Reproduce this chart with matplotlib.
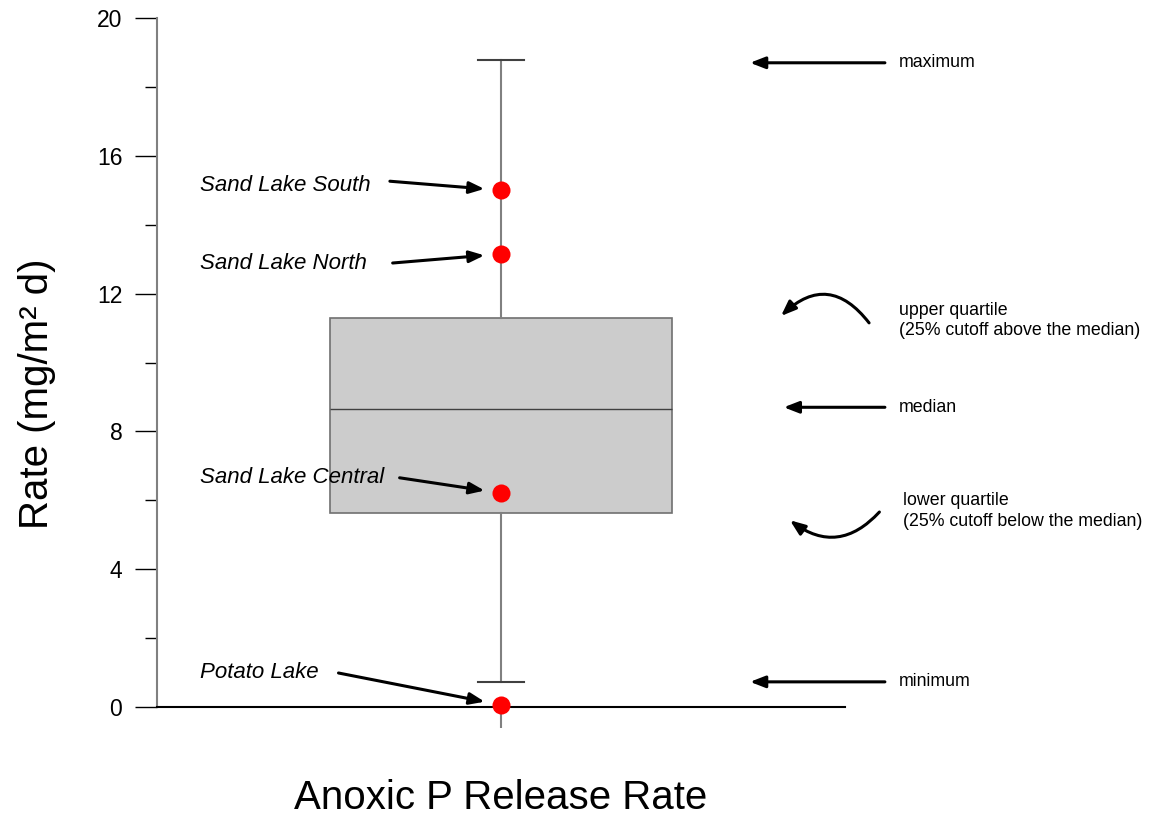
import matplotlib.pyplot as plt
from matplotlib.ticker import MultipleLocator

plt.rcParams["font.family"] = ["Liberation Sans", "DejaVu Sans"]

# summary statistics of the release rates (mg/m2 d)
rate_min = 0.73
rate_q1 = 5.63
rate_median = 8.65
rate_q3 = 11.29
rate_max = 18.78

# individual lakes marked on top of the box
lake_names = ["Sand Lake South", "Sand Lake North", "Sand Lake Central", "Potato Lake"]
lake_rates = [15.0, 13.15, 6.21, 0.06]

category = "Anoxic P Release Rate"

fig = plt.figure(figsize=(11.53, 8.17), dpi=100)
ax = fig.add_axes([157 / 1153, 1 - 707 / 817, 688 / 1153, 689 / 817])

stats = [dict(med=rate_median, q1=rate_q1, q3=rate_q3, whislo=rate_min, whishi=rate_max, fliers=[])]
ax.bxp(stats, positions=[0.5], widths=0.497, capwidths=[0.068], patch_artist=True,
       showfliers=False,
       boxprops=dict(facecolor="#cccccc", edgecolor="#707070", linewidth=1.2),
       medianprops=dict(color="#404040", linewidth=1.0),
       whiskerprops=dict(color="#808080", linewidth=1.5),
       capprops=dict(color="#404040", linewidth=1.5))

ax.plot([0.5] * len(lake_rates), lake_rates, "o", color="red", markersize=13,
        markeredgewidth=0, zorder=5, clip_on=False)

ax.set_xlim(0, 1)
ax.set_ylim(0, 20)
ax.yaxis.set_major_locator(MultipleLocator(4))
ax.yaxis.set_minor_locator(MultipleLocator(2))
ax.tick_params(axis="y", which="major", length=16, width=1, labelsize=16.5, pad=9, direction="out")
ax.tick_params(axis="y", which="minor", length=8.5, width=1, direction="out")
ax.set_xticks([0.5], [category])
ax.tick_params(axis="x", length=15, width=1.5, color="#808080", labelsize=29, pad=37)

ax.spines["top"].set_visible(False)
ax.spines["right"].set_visible(False)
ax.spines["left"].set_color("#808080")
ax.spines["left"].set_linewidth(1.5)
ax.spines["bottom"].set_color("black")
ax.spines["bottom"].set_linewidth(1.5)

fig.text(37 / 1153, 1 - 394 / 817, "Rate (mg/m² d)", rotation=90, ha="center", va="center", fontsize=29)

arrow = dict(arrowstyle="-|>,head_length=0.9,head_width=0.35", color="black", lw=2.2,
             shrinkA=0, shrinkB=12)

# labels for the individual lakes
label_y = [15.15, 12.87, 6.65, 1.0]
tail_offsets = [(-80, 6.5), (-78, -6.5), (-73, 11), (-117, 23)]
for name, rate, ly, off in zip(lake_names, lake_rates, label_y, tail_offsets):
    ax.text(0.0625, ly, name, style="italic", fontsize=16, ha="left", va="center")
    ax.annotate("", xy=(0.5, rate), xytext=off, textcoords="offset points",
                arrowprops=arrow, annotation_clip=False)

# key on the right explaining the box parts
key_arrow = dict(arrowstyle="-|>,head_length=0.9,head_width=0.35", color="black", lw=2.2,
                 shrinkA=0, shrinkB=0)
for y, text, x_head in [(rate_max - 0.08, "maximum", 0.862), (rate_median + 0.05, "median", 0.911),
                        (rate_min, "minimum", 0.862)]:
    ax.annotate("", xy=(x_head, y), xytext=(1.058, y), arrowprops=key_arrow,
                annotation_clip=False)
    ax.text(1.078, y, text, fontsize=12.8, ha="left", va="center", clip_on=False)

ax.annotate("", xy=(0.907, 11.35), xytext=(1.035, 11.15), annotation_clip=False,
            arrowprops=dict(key_arrow, connectionstyle="arc3,rad=0.55"))
ax.text(1.078, 11.23, "upper quartile\n(25% cutoff above the median)", fontsize=12.8,
        ha="left", va="center", linespacing=1.25)

ax.annotate("", xy=(0.92, 5.42), xytext=(1.05, 5.66), annotation_clip=False,
            arrowprops=dict(key_arrow, connectionstyle="arc3,rad=-0.45"))
ax.text(1.085, 5.69, "lower quartile\n(25% cutoff below the median)", fontsize=12.8,
        ha="left", va="center", linespacing=1.25)

fig.savefig("out.png", dpi=100)
